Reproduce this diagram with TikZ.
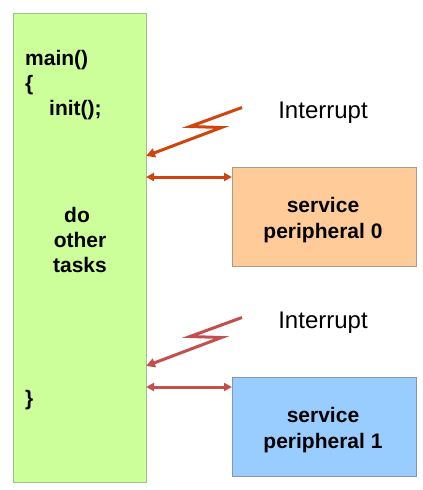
\documentclass[tikz,border=0pt]{standalone}
\usepackage{fontspec}
\setmainfont{Liberation Sans}
\usetikzlibrary{arrows.meta}
\definecolor{boxgreen}{HTML}{CCFF99}
\definecolor{edgegreen}{HTML}{A3C08A}
\definecolor{boxorange}{HTML}{FFCC99}
\definecolor{edgeorange}{HTML}{A89A8C}
\definecolor{boxblue}{HTML}{99CCFF}
\definecolor{edgeblue}{HTML}{8796A8}
\definecolor{irqA}{HTML}{D0440F}
\definecolor{irqB}{HTML}{C4504E}
\tikzset{
  blockbox/.style={draw, line width=1pt, inner sep=0pt, outer sep=0pt, anchor=north west},
  code/.style={font=\fontsize{21}{25}\selectfont\bfseries, inner sep=0pt, anchor=base west},
  boxtext/.style={font=\fontsize{21}{26}\selectfont\bfseries, inner sep=0pt, anchor=base},
  irqtext/.style={font=\fontsize{24}{28}\selectfont, inner sep=0pt, anchor=base},
  bolt/.style={line width=3pt, line join=miter, -{Triangle[length=9pt,width=9pt]}},
  link/.style={line width=3pt, {Triangle[length=8pt,width=8pt]}-{Triangle[length=8pt,width=8pt]}}
}
\begin{document}
\begin{tikzpicture}[x=1pt,y=-1pt]
\useasboundingbox (0,0) rectangle (423,490);
\node[blockbox, fill=boxgreen, draw=edgegreen, minimum width=133pt, minimum height=469pt] (main) at (13,13) {};
\node[blockbox, fill=boxorange, draw=edgeorange, minimum width=184pt, minimum height=99pt] (p0) at (232,167) {};
\node[blockbox, fill=boxblue, draw=edgeblue, minimum width=184pt, minimum height=99pt] (p1) at (232,377) {};

\node[code] (l1) at (25,65) {main()};
\node[code] (l2) at (25,90) {\{};
\node[code] (l3) at (49,115) {init();};
\node[code] (l4) at (25,405) {\}};
\node[boxtext] (do) at (77,222) {do};
\node[boxtext] (other) at (80,247) {other};
\node[boxtext] (tasks) at (80,272) {tasks};

\node[boxtext] (s0) at (323,212) {service};
\node[boxtext] (q0) at (323,238) {peripheral 0};
\node[boxtext] (s1) at (323,422) {service};
\node[boxtext] (q1) at (323,448) {peripheral 1};

\node[irqtext] (i0) at (323,118) {Interrupt};
\node[irqtext] (i1) at (323,328) {Interrupt};

\coordinate (a0) at (242,107.5);
\coordinate (b0) at (190,126.5);
\coordinate (c0) at (221.5,127.5);
\coordinate (d0) at (main.east |- 0,156);
\draw[bolt, draw=irqA] (a0) -- (b0) -- (c0) -- (d0);

\coordinate (a1) at (242,317.5);
\coordinate (b1) at (190,336.5);
\coordinate (c1) at (221.5,337.5);
\coordinate (d1) at (main.east |- 0,366);
\draw[bolt, draw=irqB] (a1) -- (b1) -- (c1) -- (d1);

\draw[link, draw=irqA] (main.east |- 0,177) -- (p0.west |- 0,177);
\draw[link, draw=irqB] (main.east |- 0,387) -- (p1.west |- 0,387);
\end{tikzpicture}
\end{document}
